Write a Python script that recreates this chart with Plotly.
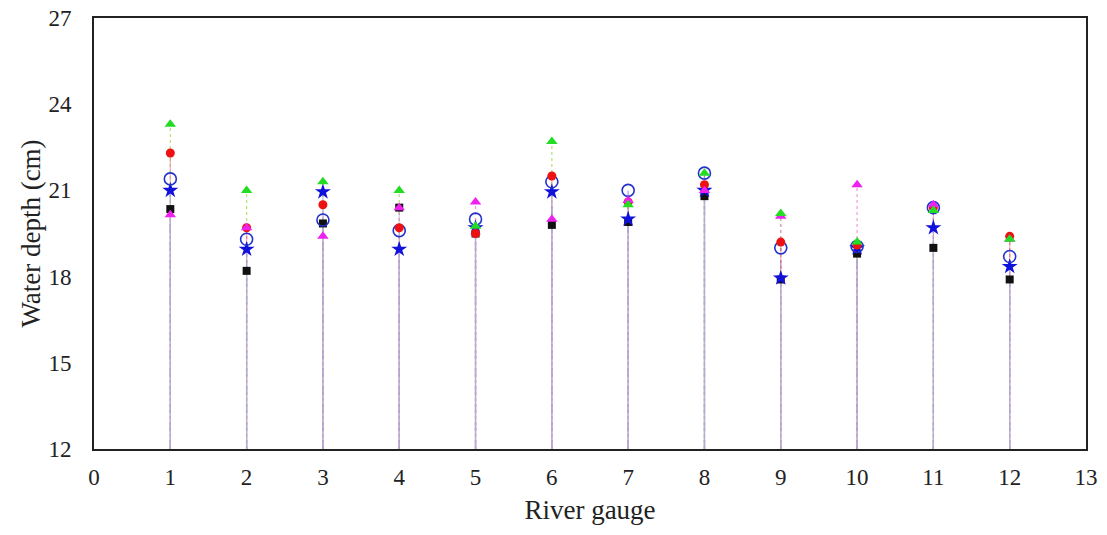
import plotly.graph_objects as go

gauges = [1, 2, 3, 4, 5, 6, 7, 8, 9, 10, 11, 12]
square = [20.35, 18.2, 19.85, 20.4, 19.5, 19.8, 19.9, 20.8, 17.9, 18.8, 19.0, 17.9]
star = [21.0, 18.95, 20.95, 18.95, 19.7, 20.95, 20.0, 21.0, 17.95, 19.0, 19.7, 18.35]
open_circle = [21.4, 19.3, 19.97, 19.6, 20.0, 21.3, 21.0, 21.6, 19.0, 19.05, 20.4, 18.7]
red_circle = [22.3, 19.7, 20.5, 19.7, 19.5, 21.5, 20.6, 21.2, 19.2, 19.1, 20.4, 19.4]
green_tri = [23.3, 21.0, 21.3, 21.0, 19.75, 22.7, 20.5, 21.6, 20.2, 19.2, 20.3, 19.3]
magenta_tri = [20.15, 19.7, 19.4, 20.4, 20.6, 20.0, 20.65, 21.0, 20.1, 21.2, 20.5, 19.3]

y_base = 12
x_ticks = list(range(0, 14))
y_ticks = [12, 15, 18, 21, 24, 27]

series = [
    # (values, marker symbol, marker color, size, drop-line color, dash)
    (green_tri, "triangle-up", "#22dd22", 10, "rgba(170,220,90,0.8)", "dot"),
    (magenta_tri, "triangle-up", "#ee22ee", 10, "rgba(240,120,200,0.7)", "dot"),
    (open_circle, "circle-open", "#2233cc", 12, "rgba(110,120,210,0.6)", "dash"),
    (red_circle, "circle", "#ee1111", 9, "rgba(230,110,140,0.55)", "solid"),
    (star, "star", "#1111dd", 12, "rgba(170,170,220,0.7)", "solid"),
    (square, "square", "#111111", 8, "rgba(180,180,215,0.6)", "solid"),
]

fig = go.Figure()

# drop lines
for vals, sym, col, size, lcol, dash in series:
    xs, ys = [], []
    for g, v in zip(gauges, vals):
        xs += [g, g, None]
        ys += [y_base, v, None]
    fig.add_trace(go.Scatter(x=xs, y=ys, mode="lines",
                             line=dict(color=lcol, width=1.3, dash=dash),
                             hoverinfo="skip", showlegend=False))

# markers
for vals, sym, col, size, lcol, dash in [series[5], series[4], series[2], series[3], series[1], series[0]]:
    fig.add_trace(go.Scatter(x=gauges, y=vals, mode="markers",
                             marker=dict(symbol=sym, color=col, size=size,
                                         line=dict(color=col, width=1.6 if sym == "circle-open" else 0)),
                             showlegend=False))

font_family = "Liberation Serif, Times New Roman, serif"
fig.update_layout(
    width=1107, height=535,
    margin=dict(l=94, r=21, t=18, b=86),
    paper_bgcolor="white", plot_bgcolor="white",
    font=dict(family=font_family, size=23, color="#222"),
)
fig.update_xaxes(range=[0, 13], tickvals=x_ticks, showgrid=False, zeroline=False,
                 showline=True, linecolor="#222", linewidth=2, mirror=True,
                 ticks="", ticklabelstandoff=6, automargin=False,
                 title=dict(text="River gauge", font=dict(size=27), standoff=12))
fig.update_yaxes(range=[12, 27], tickvals=y_ticks, showgrid=False, zeroline=False,
                 showline=True, linecolor="#222", linewidth=2, mirror=True,
                 ticks="", ticklabelstandoff=16, automargin=False,
                 title=dict(text="Water depth (cm)", font=dict(size=27), standoff=0))

fig.write_html("out.html")
